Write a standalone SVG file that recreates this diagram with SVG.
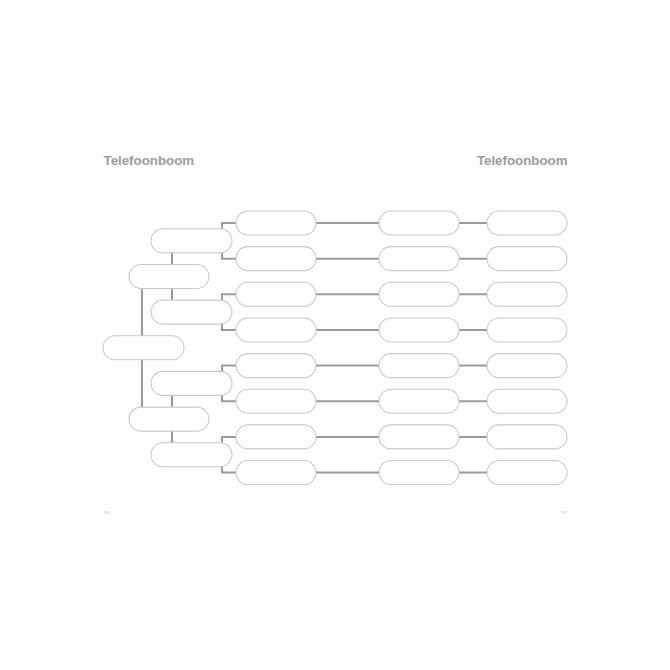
<svg xmlns="http://www.w3.org/2000/svg" width="670" height="670" viewBox="0 0 670 670">
<style>
.bg{fill:#ffffff}
.title{font-family:"Liberation Sans",Arial,sans-serif;font-weight:bold;font-size:13.3px;fill:#9c9c9c}
.pg{font-family:"Liberation Sans",Arial,sans-serif;font-size:4px;fill:#c8c8c8}
.con{fill:none;stroke:#9a9a9a;stroke-width:2}
.box{fill:#ffffff;stroke:#c9c9c9;stroke-width:1.1}
</style>
<rect class="bg" x="0" y="0" width="670" height="670"/>
<text class="title" x="103.5" y="164.5">Telefoonboom</text>
<text class="title" x="567.5" y="164.5" text-anchor="end">Telefoonboom</text>
<text class="pg" x="103" y="514">286</text>
<text class="pg" x="567" y="514" text-anchor="end">287</text>
<g id="connectors">
<path class="con" d="M142 276.5V419.1"/>
<path class="con" d="M172 240.8V312.1M172 383.4V454.7"/>
<path class="con" d="M236 223H222V258.65H236"/>
<path class="con" d="M236 294.3H222V329.95H236"/>
<path class="con" d="M236 365.6H222V401.25H236"/>
<path class="con" d="M236 436.9H222V472.55H236"/>
<path class="con" d="M316 223H379M459 223H487"/>
<path class="con" d="M316 258.65H379M459 258.65H487"/>
<path class="con" d="M316 294.3H379M459 294.3H487"/>
<path class="con" d="M316 329.95H379M459 329.95H487"/>
<path class="con" d="M316 365.6H379M459 365.6H487"/>
<path class="con" d="M316 401.25H379M459 401.25H487"/>
<path class="con" d="M316 436.9H379M459 436.9H487"/>
<path class="con" d="M316 472.55H379M459 472.55H487"/>
</g>
<g id="root"><rect class="box" x="103" y="335.8" width="81" height="24" rx="12"/></g>
<g id="l1a"><rect class="box" x="129" y="264.5" width="80" height="24" rx="12"/></g>
<g id="l1b"><rect class="box" x="129" y="407.1" width="80" height="24" rx="12"/></g>
<g id="l2a"><rect class="box" x="151" y="228.8" width="81" height="24" rx="12"/></g>
<g id="l2b"><rect class="box" x="151" y="300.1" width="81" height="24" rx="12"/></g>
<g id="l2c"><rect class="box" x="151" y="371.4" width="81" height="24" rx="12"/></g>
<g id="l2d"><rect class="box" x="151" y="442.7" width="81" height="24" rx="12"/></g>
<g id="a1"><rect class="box" x="236" y="211" width="80" height="24" rx="12"/></g>
<g id="a2"><rect class="box" x="236" y="246.65" width="80" height="24" rx="12"/></g>
<g id="a3"><rect class="box" x="236" y="282.3" width="80" height="24" rx="12"/></g>
<g id="a4"><rect class="box" x="236" y="317.95" width="80" height="24" rx="12"/></g>
<g id="a5"><rect class="box" x="236" y="353.6" width="80" height="24" rx="12"/></g>
<g id="a6"><rect class="box" x="236" y="389.25" width="80" height="24" rx="12"/></g>
<g id="a7"><rect class="box" x="236" y="424.9" width="80" height="24" rx="12"/></g>
<g id="a8"><rect class="box" x="236" y="460.55" width="80" height="24" rx="12"/></g>
<g id="b1"><rect class="box" x="379" y="211" width="80" height="24" rx="12"/></g>
<g id="b2"><rect class="box" x="379" y="246.65" width="80" height="24" rx="12"/></g>
<g id="b3"><rect class="box" x="379" y="282.3" width="80" height="24" rx="12"/></g>
<g id="b4"><rect class="box" x="379" y="317.95" width="80" height="24" rx="12"/></g>
<g id="b5"><rect class="box" x="379" y="353.6" width="80" height="24" rx="12"/></g>
<g id="b6"><rect class="box" x="379" y="389.25" width="80" height="24" rx="12"/></g>
<g id="b7"><rect class="box" x="379" y="424.9" width="80" height="24" rx="12"/></g>
<g id="b8"><rect class="box" x="379" y="460.55" width="80" height="24" rx="12"/></g>
<g id="c1"><rect class="box" x="487" y="211" width="80" height="24" rx="12"/></g>
<g id="c2"><rect class="box" x="487" y="246.65" width="80" height="24" rx="12"/></g>
<g id="c3"><rect class="box" x="487" y="282.3" width="80" height="24" rx="12"/></g>
<g id="c4"><rect class="box" x="487" y="317.95" width="80" height="24" rx="12"/></g>
<g id="c5"><rect class="box" x="487" y="353.6" width="80" height="24" rx="12"/></g>
<g id="c6"><rect class="box" x="487" y="389.25" width="80" height="24" rx="12"/></g>
<g id="c7"><rect class="box" x="487" y="424.9" width="80" height="24" rx="12"/></g>
<g id="c8"><rect class="box" x="487" y="460.55" width="80" height="24" rx="12"/></g>
</svg>
